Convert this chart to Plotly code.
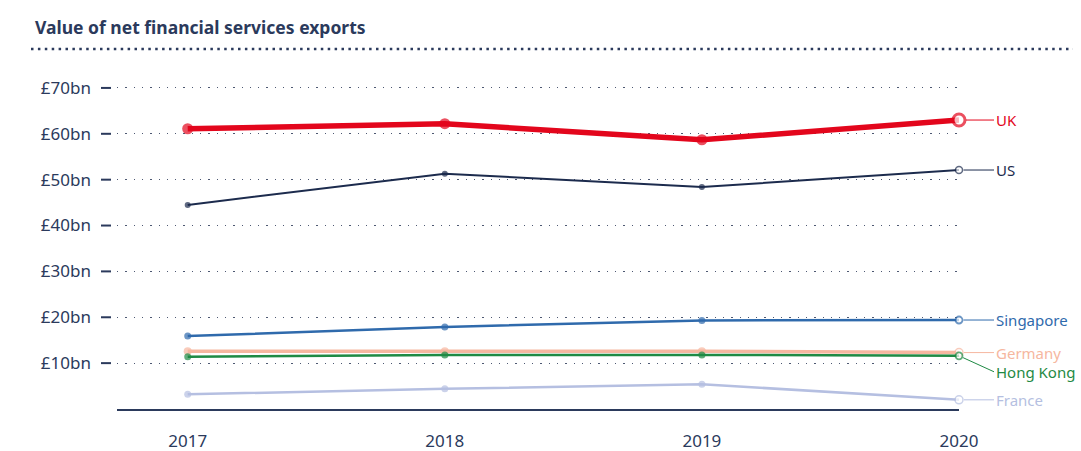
import plotly.graph_objects as go

years = [2017, 2018, 2019, 2020]
year_labels = ["2017", "2018", "2019", "2020"]
uk = [61.1, 62.2, 58.7, 63.0]
us = [44.5, 51.3, 48.4, 52.1]
singapore = [15.9, 17.9, 19.3, 19.4]
germany = [12.6, 12.6, 12.6, 12.3]
hong_kong = [11.4, 11.8, 11.8, 11.6]
france = [3.2, 4.4, 5.4, 2.0]
y_ticks = [10, 20, 30, 40, 50, 60, 70]
y_tick_labels = ["£10bn", "£20bn", "£30bn", "£40bn", "£50bn", "£60bn", "£70bn"]

TEXT = "#2b3a5c"
FONT = "Noto Sans"

series = [
    # name, values, color, line width, marker size, end size, end border, label dy
    ("France", france, "#b5bfe1", 2.5, 7, 8, 1.5, 0),
    ("Germany", germany, "#f6b7a0", 3.5, 8, 8, 1.5, 0),
    ("Hong Kong", hong_kong, "#1f8a44", 2.5, 7, 7, 1.8, 16),
    ("Singapore", singapore, "#2f6aac", 2.5, 7, 7, 1.8, 0),
    ("US", us, "#1c2b4d", 2, 6, 7, 1.5, 0),
    ("UK", uk, "#e3061c", 5.5, 11, 12, 3, 0),
]

W, H = 1081, 451
L, R, T, B = 117, 1081 - 959, 65, 42
pw, ph = W - L - R, H - T - B


def px(xp):  # page pixel x -> paper
    return (xp - L) / pw


def py(yp):  # page pixel y -> paper
    return 1 - (yp - T) / ph


fig = go.Figure()
annotations = []
for name, vals, color, lw, ms, es, eb, dy in series:
    n = len(vals)
    fig.add_trace(go.Scatter(
        x=years, y=vals, mode="lines+markers", name=name,
        line=dict(color=color, width=lw),
        marker=dict(
            symbol="circle",
            size=[ms] * (n - 1) + [es],
            color=[color] * (n - 1) + ["white"],
            line=dict(color=color, width=[0] * (n - 1) + [eb]),
        ),
        cliponaxis=False, showlegend=False, hoverinfo="x+y+name",
    ))
    annotations.append(dict(
        x=years[-1], y=vals[-1], xref="x", yref="y",
        text=name, showarrow=True, arrowhead=0, arrowwidth=1,
        arrowcolor=color, ax=35, ay=dy, xanchor="left", yanchor="middle",
        standoff=es / 2 + 1, font=dict(family=FONT, size=15, color=color),
    ))

annotations.append(dict(
    x=px(33), y=py(27), xref="paper", yref="paper",
    text="<b>Value of net financial services exports</b>",
    showarrow=False, xanchor="left", yanchor="middle",
    font=dict(family=FONT, size=17.5, color=TEXT),
))

shapes = [dict(type="line", xref="paper", yref="paper", x0=px(31), x1=px(1073),
               y0=py(49), y1=py(49),
               line=dict(color="#2b3a5c", width=2.5, dash="2.5px,4.4px"))]
for v in y_ticks:
    shapes.append(dict(type="line", xref="paper", yref="y", x0=px(101), x1=px(111),
                       y0=v, y1=v, line=dict(color="#2b3a5c", width=2)))

fig.update_layout(
    width=W, height=H,
    margin=dict(l=L, r=R, t=T, b=B),
    paper_bgcolor="white", plot_bgcolor="white",
    font=dict(family=FONT, color=TEXT),
    xaxis=dict(
        range=[2016.725, 2020], tickvals=years, ticktext=year_labels, automargin=False,
        showgrid=False, zeroline=False, showline=True, linecolor="#2b3a5c", linewidth=2,
        ticks="", ticklabelstandoff=16, tickfont=dict(family=FONT, size=17, color=TEXT),
    ),
    yaxis=dict(
        range=[0, 75], tickvals=y_ticks, ticktext=y_tick_labels, automargin=False,
        showgrid=True, gridcolor="#4d5872", gridwidth=1.3, griddash="1.3px,7px",
        zeroline=False, showline=False, ticks="", ticklabelstandoff=25,
        tickfont=dict(family=FONT, size=17, color=TEXT),
    ),
    annotations=annotations,
    shapes=shapes,
)

fig.write_html("out.html", config={"displayModeBar": False},
               post_script="document.body.style.margin='0';document.body.style.overflow='hidden';")
